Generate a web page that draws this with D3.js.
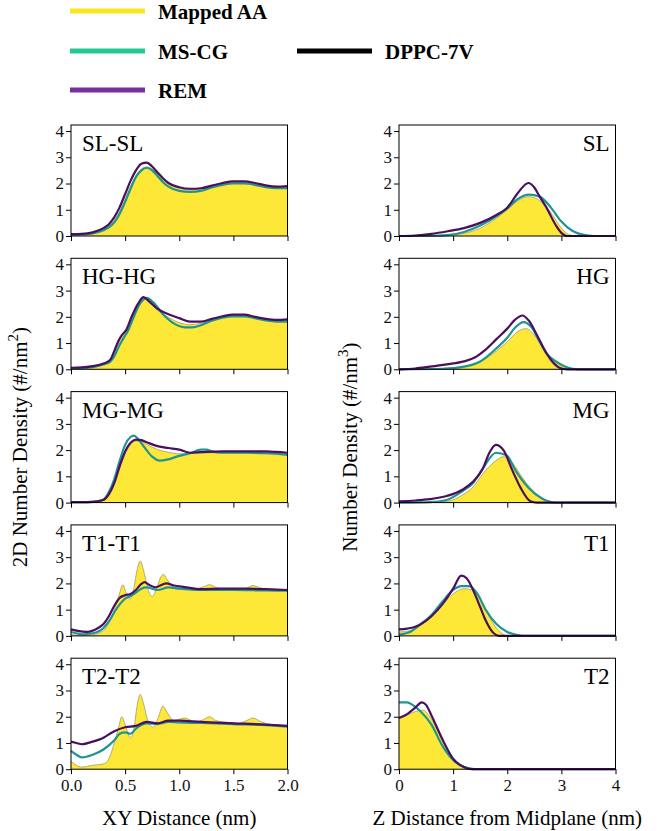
<!DOCTYPE html>
<html>
<head>
<meta charset="utf-8">
<script src="https://cdn.jsdelivr.net/npm/d3@7"></script>
<style>
  body { margin: 0; background: #fff; }
  text { font-family: 'Liberation Serif', 'Times New Roman', Times, 'DejaVu Serif', serif !important; }
</style>
</head>
<body>
<div id="plot"></div>
<script>
// series colours
const colAA = '#fde837';
const colMS = '#1f9590';
const colREM = '#4a0f5e';

// panel labels
const leftNames = ['SL-SL', 'HG-HG', 'MG-MG', 'T1-T1', 'T2-T2'];
const rightNames = ['SL', 'HG', 'MG', 'T1', 'T2'];

const leftTicks = [0, 0.5, 1.0, 1.5, 2.0];
const rightTicks = [0, 1, 2, 3, 4];
const yTicks = [0, 1, 2, 3, 4];

// --- XY RDF (left column), [x, y] ---
const slslAA = [[0,0.05],[0.1,0.07],[0.2,0.12],[0.3,0.25],[0.35,0.38],[0.4,0.6],[0.45,0.95],[0.5,1.4],[0.55,1.9],[0.6,2.3],[0.65,2.55],[0.7,2.63],[0.75,2.55],[0.8,2.35],[0.85,2.15],[0.9,1.98],[1.0,1.82],[1.1,1.76],[1.2,1.8],[1.3,1.9],[1.4,1.98],[1.5,2.03],[1.6,2.03],[1.7,1.98],[1.8,1.9],[1.9,1.86],[2.0,1.85]];
const slslMS = [[0,0.05],[0.1,0.06],[0.2,0.1],[0.3,0.22],[0.35,0.33],[0.4,0.52],[0.45,0.85],[0.5,1.3],[0.55,1.8],[0.6,2.25],[0.65,2.5],[0.7,2.6],[0.75,2.5],[0.8,2.28],[0.85,2.05],[0.9,1.88],[1.0,1.72],[1.1,1.68],[1.2,1.72],[1.3,1.85],[1.4,1.95],[1.5,2.0],[1.6,2.0],[1.7,1.95],[1.8,1.86],[1.9,1.82],[2.0,1.82]];
const slslREM = [[0,0.07],[0.1,0.08],[0.2,0.14],[0.3,0.3],[0.35,0.45],[0.4,0.72],[0.45,1.1],[0.5,1.6],[0.55,2.1],[0.6,2.5],[0.65,2.75],[0.7,2.8],[0.75,2.65],[0.8,2.42],[0.85,2.2],[0.9,2.02],[1.0,1.86],[1.1,1.8],[1.2,1.82],[1.3,1.92],[1.4,2.02],[1.5,2.08],[1.6,2.08],[1.7,2.02],[1.8,1.93],[1.9,1.88],[2.0,1.9]];

const hghgAA = [[0,0.05],[0.1,0.05],[0.2,0.1],[0.3,0.2],[0.36,0.3],[0.4,0.6],[0.44,1.0],[0.47,1.3],[0.52,1.6],[0.57,2.1],[0.62,2.5],[0.67,2.7],[0.72,2.55],[0.8,2.25],[0.9,1.98],[1.0,1.78],[1.1,1.7],[1.2,1.75],[1.3,1.88],[1.4,1.98],[1.5,2.03],[1.6,2.03],[1.7,1.96],[1.8,1.88],[1.9,1.85],[2.0,1.85]];
const hghgMS = [[0,0.05],[0.1,0.05],[0.2,0.08],[0.3,0.18],[0.36,0.28],[0.4,0.5],[0.44,0.85],[0.48,1.15],[0.53,1.5],[0.58,2.0],[0.63,2.45],[0.7,2.72],[0.76,2.55],[0.85,2.1],[0.95,1.75],[1.05,1.6],[1.12,1.6],[1.2,1.68],[1.3,1.85],[1.4,1.97],[1.5,2.02],[1.6,2.02],[1.7,1.95],[1.8,1.86],[1.9,1.82],[2.0,1.82]];
const hghgREM = [[0,0.06],[0.1,0.07],[0.2,0.12],[0.3,0.22],[0.36,0.35],[0.4,0.7],[0.44,1.1],[0.47,1.3],[0.51,1.5],[0.56,2.0],[0.62,2.5],[0.67,2.75],[0.72,2.6],[0.8,2.3],[0.9,2.1],[1.0,1.95],[1.1,1.82],[1.2,1.82],[1.3,1.92],[1.4,2.02],[1.5,2.08],[1.6,2.08],[1.7,2.0],[1.8,1.92],[1.9,1.88],[2.0,1.9]];

const mgmgAA = [[0,0.02],[0.1,0.02],[0.2,0.03],[0.3,0.1],[0.35,0.3],[0.4,0.7],[0.45,1.3],[0.5,1.85],[0.55,2.2],[0.6,2.35],[0.65,2.33],[0.7,2.22],[0.8,2.02],[0.9,1.92],[1.0,1.86],[1.1,1.88],[1.3,1.9],[1.5,1.9],[1.7,1.9],[1.9,1.88],[2.0,1.85]];
const mgmgMS = [[0,0.02],[0.1,0.02],[0.2,0.03],[0.3,0.12],[0.35,0.4],[0.4,0.9],[0.45,1.6],[0.5,2.2],[0.55,2.5],[0.58,2.55],[0.62,2.42],[0.68,2.1],[0.75,1.75],[0.82,1.6],[0.9,1.65],[1.0,1.78],[1.1,1.88],[1.2,2.02],[1.25,2.02],[1.3,1.95],[1.4,1.9],[1.6,1.9],[1.8,1.88],[2.0,1.82]];
const mgmgREM = [[0,0.02],[0.1,0.02],[0.2,0.03],[0.3,0.1],[0.35,0.32],[0.4,0.75],[0.45,1.4],[0.5,1.95],[0.55,2.28],[0.6,2.4],[0.65,2.38],[0.7,2.3],[0.8,2.15],[0.9,2.08],[1.0,2.02],[1.1,1.9],[1.2,1.92],[1.4,1.95],[1.6,1.95],[1.8,1.95],[1.9,1.93],[2.0,1.9]];

const t1t1AA = [[0,0.05],[0.1,0.02],[0.2,0.05],[0.3,0.2],[0.35,0.5],[0.4,1.0],[0.44,1.5],[0.48,1.95],[0.51,1.6],[0.545,1.4],[0.58,1.8],[0.61,2.5],[0.64,2.85],[0.67,2.5],[0.71,1.8],[0.75,1.5],[0.79,1.8],[0.83,2.25],[0.855,2.35],[0.88,2.2],[0.95,1.85],[1.05,1.78],[1.15,1.8],[1.22,1.86],[1.28,1.95],[1.34,1.85],[1.45,1.78],[1.55,1.77],[1.62,1.82],[1.68,1.92],[1.75,1.83],[1.85,1.76],[2.0,1.75]];
const t1t1MS = [[0,0.15],[0.05,0.1],[0.1,0.06],[0.2,0.1],[0.3,0.3],[0.35,0.55],[0.4,0.9],[0.45,1.2],[0.5,1.42],[0.55,1.52],[0.6,1.65],[0.65,1.8],[0.7,1.85],[0.8,1.75],[0.9,1.85],[1.0,1.8],[1.2,1.75],[1.5,1.75],[1.8,1.73],[2.0,1.72]];
const t1t1REM = [[0,0.25],[0.05,0.2],[0.15,0.15],[0.25,0.3],[0.3,0.45],[0.35,0.75],[0.4,1.15],[0.45,1.45],[0.5,1.55],[0.55,1.6],[0.6,1.75],[0.65,1.98],[0.68,2.05],[0.72,1.95],[0.78,1.85],[0.84,1.95],[0.88,2.0],[0.95,1.92],[1.05,1.86],[1.2,1.78],[1.4,1.8],[1.6,1.8],[1.8,1.78],[2.0,1.75]];

const t2t2AA = [[0,0.3],[0.05,0.15],[0.1,0.08],[0.2,0.15],[0.3,0.2],[0.35,0.4],[0.4,1.0],[0.44,1.6],[0.47,2.0],[0.5,1.7],[0.55,1.2],[0.58,1.5],[0.61,2.4],[0.64,2.85],[0.67,2.5],[0.71,1.85],[0.76,1.6],[0.8,1.9],[0.85,2.4],[0.89,2.15],[0.95,1.85],[1.05,1.95],[1.15,1.8],[1.22,1.88],[1.28,2.0],[1.34,1.85],[1.45,1.78],[1.55,1.75],[1.62,1.85],[1.68,1.95],[1.76,1.8],[1.85,1.7],[2.0,1.65]];
const t2t2MS = [[0,0.7],[0.05,0.55],[0.1,0.45],[0.2,0.55],[0.3,0.75],[0.4,1.1],[0.45,1.35],[0.5,1.4],[0.55,1.35],[0.6,1.55],[0.7,1.75],[0.8,1.72],[0.9,1.8],[1.0,1.78],[1.2,1.76],[1.5,1.72],[1.8,1.68],[2.0,1.62]];
const t2t2REM = [[0,1.05],[0.05,1.0],[0.1,0.95],[0.2,1.05],[0.3,1.2],[0.4,1.45],[0.5,1.6],[0.6,1.65],[0.7,1.8],[0.8,1.75],[0.9,1.85],[1.0,1.85],[1.2,1.8],[1.5,1.75],[1.8,1.7],[2.0,1.65]];

// --- Z density (right column), [z, y] ---
const slAA = [[0,0],[0.5,0.01],[1.0,0.05],[1.3,0.15],[1.5,0.3],[1.8,0.68],[2.0,1.0],[2.2,1.35],[2.4,1.5],[2.6,1.35],[2.8,0.9],[2.9,0.6],[3.0,0.3],[3.1,0.1],[3.2,0.02],[3.3,0],[4,0]];
const slMS = [[0,0],[0.6,0],[0.9,0.03],[1.2,0.15],[1.5,0.4],[1.8,0.75],[2.0,1.05],[2.2,1.42],[2.4,1.58],[2.6,1.5],[2.8,1.1],[3.0,0.55],[3.2,0.2],[3.4,0.05],[3.6,0],[4,0]];
const slREM = [[0,0],[0.3,0.02],[0.6,0.08],[0.9,0.18],[1.2,0.3],[1.5,0.5],[1.8,0.8],[2.0,1.08],[2.2,1.65],[2.39,2.02],[2.5,1.85],[2.6,1.5],[2.72,1.1],[2.9,0.4],[3.0,0.12],[3.1,0],[4,0]];

const hgAA = [[0,0],[0.8,0.02],[1.2,0.1],[1.5,0.28],[1.8,0.7],[2.0,1.05],[2.2,1.45],[2.35,1.55],[2.5,1.3],[2.72,0.6],[2.9,0.25],[3.05,0.1],[3.2,0],[4,0]];
const hgMS = [[0,0],[0.8,0.02],[1.2,0.1],[1.5,0.3],[1.8,0.8],[2.0,1.2],[2.15,1.6],[2.3,1.8],[2.45,1.6],[2.6,1.05],[2.72,0.62],[2.9,0.3],[3.1,0.08],[3.3,0],[4,0]];
const hgREM = [[0,0],[0.3,0.03],[0.57,0.1],[0.88,0.19],[1.2,0.3],[1.4,0.45],[1.6,0.75],[1.8,1.15],[2.0,1.55],[2.15,1.9],[2.28,2.05],[2.4,1.85],[2.55,1.3],[2.7,0.7],[2.85,0.25],[3.0,0.03],[3.1,0],[4,0]];

const mgAA = [[0,0],[0.6,0.01],[0.9,0.05],[1.18,0.3],[1.37,0.6],[1.55,1.1],[1.79,1.6],[1.93,1.75],[2.1,1.5],[2.28,0.95],[2.53,0.35],[2.72,0.08],[2.85,0],[4,0]];
const mgMS = [[0,0],[0.57,0.02],[0.88,0.1],[1.18,0.45],[1.37,0.75],[1.55,1.3],[1.79,1.9],[1.99,1.8],[2.16,1.2],[2.4,0.55],[2.65,0.15],[2.9,0],[4,0]];
const mgREM = [[0,0.05],[0.3,0.08],[0.57,0.13],[0.88,0.25],[1.18,0.5],[1.37,0.8],[1.55,1.3],[1.67,1.9],[1.79,2.2],[1.93,2.0],[2.1,1.2],[2.25,0.55],[2.43,0.05],[2.55,0],[4,0]];

const t1AA = [[0,0.15],[0.2,0.2],[0.4,0.4],[0.6,0.75],[0.8,1.2],[1.0,1.6],[1.2,1.8],[1.35,1.75],[1.5,1.4],[1.65,0.8],[1.8,0.3],[1.9,0.1],[2.0,0],[4,0]];
const t1MS = [[0,0.05],[0.2,0.15],[0.4,0.45],[0.6,0.8],[0.8,1.3],[1.0,1.75],[1.15,1.9],[1.3,1.9],[1.45,1.6],[1.6,1.0],[1.8,0.45],[2.0,0.15],[2.2,0.03],[2.3,0],[4,0]];
const t1REM = [[0,0.25],[0.15,0.28],[0.3,0.35],[0.6,0.75],[0.8,1.2],[1.0,1.8],[1.15,2.3],[1.25,2.2],[1.4,1.6],[1.5,1.1],[1.6,0.6],[1.75,0.1],[1.85,0],[4,0]];

const t2AA = [[0,1.95],[0.15,2.05],[0.3,2.2],[0.45,2.25],[0.6,1.9],[0.8,1.1],[1.0,0.4],[1.2,0.08],[1.35,0],[4,0]];
const t2MS = [[0,2.55],[0.15,2.55],[0.25,2.45],[0.4,2.2],[0.6,1.7],[0.8,0.9],[1.0,0.35],[1.2,0.08],[1.4,0],[4,0]];
const t2REM = [[0,1.95],[0.15,2.1],[0.3,2.35],[0.42,2.55],[0.5,2.45],[0.6,2.05],[0.8,1.15],[1.0,0.4],[1.2,0.08],[1.35,0],[4,0]];

const leftData = [
  [slslAA, slslMS, slslREM], [hghgAA, hghgMS, hghgREM], [mgmgAA, mgmgMS, mgmgREM],
  [t1t1AA, t1t1MS, t1t1REM], [t2t2AA, t2t2MS, t2t2REM]
];
const rightData = [
  [slAA, slMS, slREM], [hgAA, hgMS, hgREM], [mgAA, mgMS, mgREM],
  [t1AA, t1MS, t1REM], [t2AA, t2MS, t2REM]
];

const width = 666, height = 831;
const panelH = 111, panelStep = 133.3, firstTop = 125;
const leftX = 71, rightX = 399, panelW = 216.5;
const serif = "'Liberation Serif', 'Times New Roman', Times, serif";

const svg = d3.select('#plot').append('svg')
  .attr('width', width)
  .attr('height', height)
  .attr('font-family', serif);

// legend
const legend = [
  {label: 'Mapped AA', color: '#fbe51f', x: 70, y: 11},
  {label: 'MS-CG', color: '#22c993', x: 70, y: 51},
  {label: 'REM', color: '#7a2fa0', x: 70, y: 90},
  {label: 'DPPC-7V', color: '#000', x: 297, y: 51}
];
legend.forEach(d => {
  svg.append('line')
    .attr('x1', d.x).attr('x2', d.x + 75)
    .attr('y1', d.y).attr('y2', d.y)
    .attr('stroke', d.color).attr('stroke-width', 5);
  svg.append('text')
    .attr('x', d.x + 88).attr('y', d.y + 8)
    .attr('font-family', serif)
    .style('font-size', '21px').style('font-weight', 'bold')
    .text(d.label);
});

function drawPanel(x0, top, xDomain, xTicks, tickFmt, series, name, labelRight, showX) {
  const xScale = d3.scaleLinear().domain(xDomain).range([x0, x0 + panelW]);
  const yScale = d3.scaleLinear().domain([0, 4.23]).range([top + panelH, top]);
  const g = svg.append('g');

  const area = d3.area()
    .x(d => xScale(d[0]))
    .y0(yScale(0))
    .y1(d => yScale(d[1]))
    .curve(d3.curveMonotoneX);
  const line = d3.line()
    .x(d => xScale(d[0]))
    .y(d => yScale(d[1]))
    .curve(d3.curveMonotoneX);

  g.append('path').datum(series[0])
    .attr('d', area)
    .attr('fill', colAA);
  g.append('path').datum(series[0])
    .attr('d', line)
    .attr('fill', 'none')
    .attr('stroke', '#a09a70')
    .attr('stroke-width', 0.8);
  g.append('path').datum(series[1])
    .attr('d', line)
    .attr('fill', 'none')
    .attr('stroke', colMS)
    .attr('stroke-width', 2.2);
  g.append('path').datum(series[2])
    .attr('d', line)
    .attr('fill', 'none')
    .attr('stroke', colREM)
    .attr('stroke-width', 2.2);

  // frame
  g.append('rect')
    .attr('x', x0).attr('y', top)
    .attr('width', panelW).attr('height', panelH)
    .attr('fill', 'none').attr('stroke', '#000').attr('stroke-width', 1);

  const yAxis = g.append('g')
    .attr('transform', `translate(${x0},0)`)
    .call(d3.axisLeft(yScale).tickValues(yTicks).tickSize(5).tickPadding(2).tickFormat(d3.format('d')));
  const xAxis = g.append('g')
    .attr('transform', `translate(0,${top + panelH})`)
    .call(d3.axisBottom(xScale).tickValues(xTicks).tickSize(5).tickPadding(5).tickFormat(showX ? tickFmt : ''));
  [yAxis, xAxis].forEach(a => {
    a.attr('font-family', serif).attr('font-size', 17);
    a.select('.domain').remove();
    a.selectAll('text').attr('fill', '#111');
    a.selectAll('line').attr('stroke', '#000');
  });

  g.append('text')
    .attr('x', labelRight ? x0 + panelW - 6 : x0 + 11)
    .attr('y', top + 26)
    .attr('text-anchor', labelRight ? 'end' : 'start')
    .attr('font-family', serif)
    .style('font-size', '23px')
    .text(name);
}

for (let i = 0; i < 5; i++) {
  const top = firstTop + i * panelStep;
  drawPanel(leftX, top, [0, 2], leftTicks, d3.format('.1f'), leftData[i], leftNames[i], false, i === 4);
  drawPanel(rightX, top, [0, 4], rightTicks, d3.format('d'), rightData[i], rightNames[i], true, i === 4);
}

// axis titles
const midY = firstTop + (4 * panelStep + panelH) / 2;
svg.append('text')
  .attr('x', leftX + panelW / 2).attr('y', 825)
  .attr('text-anchor', 'middle')
  .style('font-size', '21px')
  .text('XY Distance (nm)');
svg.append('text')
  .attr('x', rightX + panelW / 2).attr('y', 825)
  .attr('text-anchor', 'middle')
  .style('font-size', '21px')
  .text('Z Distance from Midplane (nm)');

const yl = svg.append('text')
  .attr('transform', `translate(27,${midY}) rotate(-90)`)
  .attr('text-anchor', 'middle')
  .style('font-size', '21px');
yl.append('tspan').text('2D Number Density (#/nm');
yl.append('tspan').attr('dy', -9).style('font-size', '15px').text('2');
yl.append('tspan').attr('dy', 9).text(')');

const yr = svg.append('text')
  .attr('transform', `translate(357,${midY}) rotate(-90)`)
  .attr('text-anchor', 'middle')
  .style('font-size', '21px');
yr.append('tspan').text('Number Density (#/nm');
yr.append('tspan').attr('dy', -9).style('font-size', '15px').text('3');
yr.append('tspan').attr('dy', 9).text(')');
</script>
</body>
</html>
